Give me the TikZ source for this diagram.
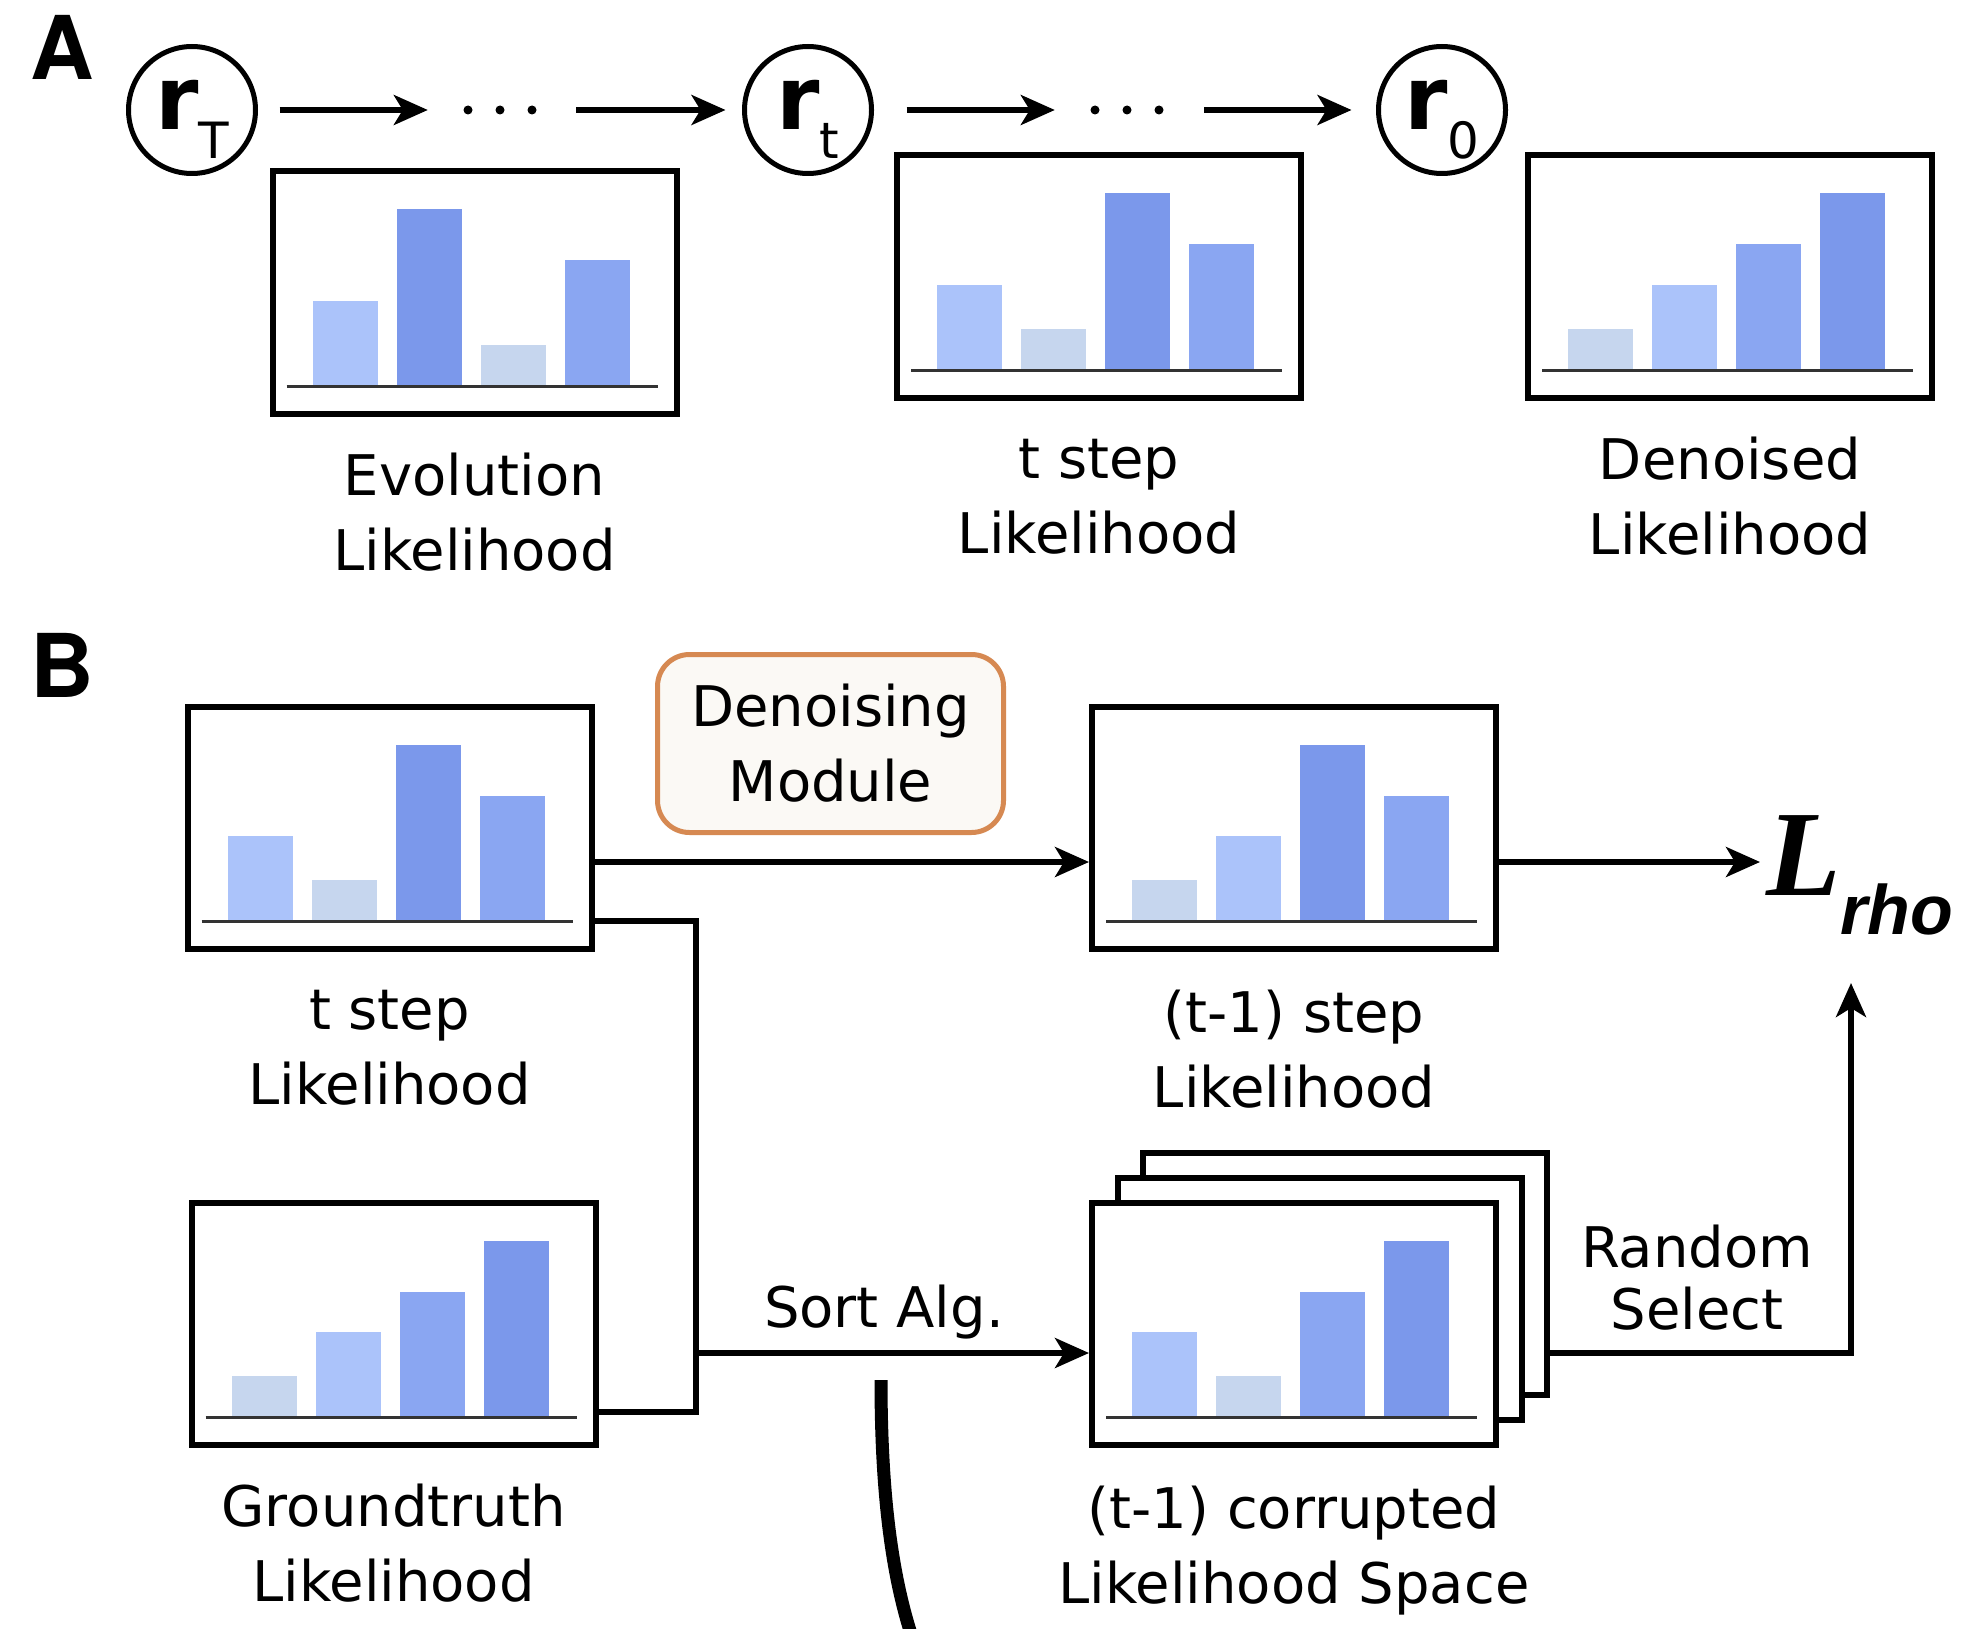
\documentclass[tikz,border=0pt]{standalone}
\usepackage{fontspec}
\setmainfont{DejaVu Sans}
\newfontfamily\panelfont{TeX Gyre Heros}
\newfontfamily\lossfont{Liberation Serif}
\newfontfamily\rhofont{Liberation Sans}
\usetikzlibrary{arrows.meta,positioning}

% bar shades, lowest to highest likelihood
\definecolor{bar1}{HTML}{C6D6EE}
\definecolor{bar2}{HTML}{ABC3FA}
\definecolor{bar3}{HTML}{8AA6F2}
\definecolor{bar4}{HTML}{7B98EB}
\definecolor{modedge}{HTML}{D68952}
\definecolor{modfill}{HTML}{FBF9F5}

\tikzset{
  histbox/.style={draw, fill=white, line width=6pt, minimum width=404pt, minimum height=242pt, inner sep=0pt},
  axisline/.style={line width=3.5pt, black!80},
  state/.style={circle, draw, line width=5pt, minimum size=127pt, inner sep=0pt, text height=50pt, text depth=10pt},
  conn/.style={line width=5.5pt},
  arr/.style={conn, -{Stealth[length=34pt, width=30pt, inset=9pt]}},
  lbl/.style={font=\fontsize{56}{75}\selectfont, align=center, inner sep=0pt},
  panel/.style={font=\panelfont\bfseries\fontsize{88}{88}\selectfont, inner sep=0pt},
  module/.style={draw=modedge, fill=modfill, line width=5pt, rounded corners=32pt, minimum width=346pt, minimum height=178pt, align=center, font=\fontsize{56}{75}\selectfont},
  dotrow/.style={minimum width=70pt, minimum height=10pt, inner sep=0pt},
}

% histogram card: name, centre, bar levels from left to right
\newcommand{\likebox}[3]{%
  \node[histbox] (#1) at (#2) {};
  \foreach \lv [count=\i from 0] in {#3} {
    \pgfmathsetmacro{\bh}{{42,86,126,177}[\lv-1]}
    \fill[fill=bar\lv] ([xshift={-162+84*\i}, yshift=-94]#1.center) rectangle ++(65,-\bh);
  }
  \draw[axisline] ([xshift=-188, yshift=-94]#1.center) -- ([xshift=183, yshift=-94]#1.center);
}

\newcommand{\rsym}[1]{{\bfseries\fontsize{88}{88}\selectfont r}\raisebox{-29pt}{\fontsize{50}{50}\selectfont #1}}

\begin{document}
\begin{tikzpicture}[x=1pt, y=-1pt]
    \useasboundingbox (0,0) rectangle (1961,1629);

    % ---------- A: reverse chain ----------
    \node[panel] (pA) at (62,47) {A};

    \node[state] (rT) at (192,110) {\rsym{T}};
    \node[state] (rt) at (808,110) {\rsym{t}};
    \node[state] (r0) at (1442,110) {\rsym{0}};

    \node[dotrow] (dA) at (500,110) {};
    \node[dotrow] (dB) at (1127,110) {};
    \foreach \dx in {-32,0,32} {
        \fill ([xshift=\dx]dA.center) circle (4.5);
        \fill ([xshift=\dx]dB.center) circle (4.5);
    }

    \draw[arr, shorten <=21.5pt, shorten >=37pt] (rT.east) -- (dA.west);
    \draw[arr, shorten <=41pt, shorten >=16.5pt] (dA.east) -- (rt.west);
    \draw[arr, shorten <=32.5pt, shorten >=37pt] (rt.east) -- (dB.west);
    \draw[arr, shorten <=42pt, shorten >=24.5pt] (dB.east) -- (r0.west);

    % likelihood cards under the chain
    \likebox{evo}{474.5,292.5}{2,4,1,3}
    \node[lbl, below=36pt of evo] (evoL) {Evolution\\Likelihood};

    \likebox{stepA}{1099,276.5}{2,1,4,3}
    \node[lbl, below=38pt of stepA] (stepAL) {t step\\Likelihood};

    \likebox{clean}{1730,276.5}{1,2,3,4}
    \node[lbl, below=36pt of clean] (cleanL) {Denoised\\Likelihood};

    % ---------- B: training step ----------
    \node[panel] (pB) at (62,665) {B};

    \likebox{curB}{389.5,827.5}{2,1,4,3}
    \node[lbl, below=38pt of curB] (curBL) {t step\\Likelihood};

    \likebox{gt}{393.5,1323.5}{1,2,3,4}
    \node[lbl, below=36pt of gt] (gtL) {Groundtruth\\Likelihood};

    \node[module] (den) at (830.5,743.5) {Denoising\\Module};

    \likebox{prev}{1294,827.5}{1,2,4,3}
    \node[lbl, below=38pt of prev] (prevL) {(t-1) step\\Likelihood};

    % stack of corrupted copies, back to front
    \node[histbox] (cor3) at (1345,1274) {};
    \node[histbox] (cor2) at (1320,1298.5) {};
    \likebox{cor}{1294,1323.5}{2,1,3,4}
    \node[lbl, below=38pt of cor] (corL) {(t-1) corrupted\\Likelihood Space};

    % loss
    \node[anchor=base west, inner sep=0pt] (loss) at (1766,895)
        {{\lossfont\bfseries\itshape\fontsize{122}{122}\selectfont L}\raisebox{-39pt}{\rhofont\bfseries\itshape\fontsize{70}{70}\selectfont rho}};

    \coordinate (lossIn) at (1760,862);
    \coordinate (lossUp) at (1851,983);
    \coordinate (jn) at (696,1353);

    % connectors
    \draw[arr] ([yshift=-34.5pt]curB.east) -- ([yshift=-34.5pt]prev.west);
    \draw[arr] ([yshift=-34.5pt]prev.east) -- (lossIn);
    \draw[conn] ([yshift=-93.5pt]curB.east) -| (jn |- 0,1412) -- (gt.east |- 0,1412);
    \draw[arr] (jn) -- (cor.west |- jn);
    \node[lbl] (sort) at (884,1312) {Sort Alg.};
    \draw[arr] (cor3.east |- jn) -| (lossUp);
    \node[lbl, font=\fontsize{56}{62}\selectfont] (rsel) at (1697,1278) {Random\\Select};

    % stray pen stroke
    \draw[line width=13pt] (881,1380) .. controls (881,1500) and (893,1580) .. (913,1640);
\end{tikzpicture}
\end{document}
